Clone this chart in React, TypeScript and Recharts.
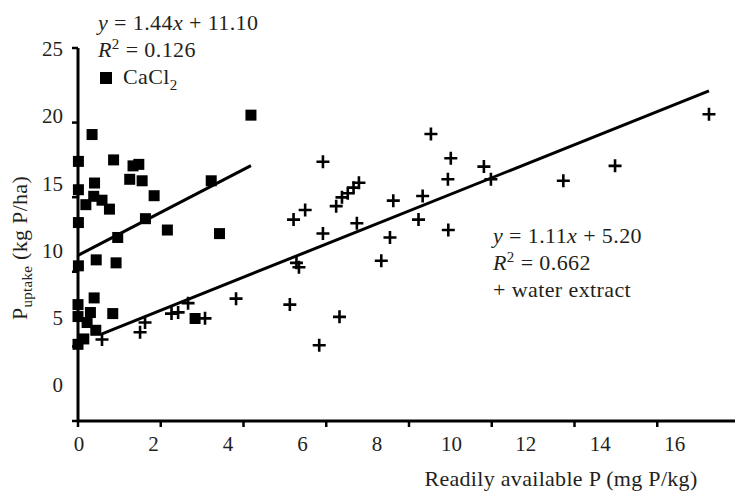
import React from 'react';
import { ReferenceLine, Scatter, ScatterChart, XAxis, YAxis } from 'recharts';

// CaCl2 extract (squares)
const cacl2X = [4.18, 0.34, 0.01, 0.86, 1.33, 1.47, 1.25, 1.55, 3.22, 0.01, 0.4, 1.84, 0.38, 0.58, 0.19, 0.76, 0.01, 1.63, 2.16, 3.42, 0.96, 0.01, 0.44, 0.92, 0.0, 0.39, 0.0, 0.3, 0.84, 0.22, 0.43, 2.83, 0.14, 0.0];
const cacl2Y = [20.5, 19.2, 17.4, 17.5, 17.1, 17.2, 16.2, 16.1, 16.1, 15.5, 15.95, 15.1, 15.06, 14.8, 14.5, 14.2, 13.3, 13.56, 12.8, 12.56, 12.3, 10.4, 10.8, 10.6, 7.8, 8.25, 7.0, 7.27, 7.2, 6.6, 6.08, 6.87, 5.5, 5.14];

// water extract (crosses)
const waterX = [0.58, 1.5, 1.62, 2.26, 2.42, 2.66, 3.07, 3.82, 5.12, 5.21, 5.28, 5.34, 5.49, 5.83, 5.92, 5.92, 6.24, 6.32, 6.38, 6.52, 6.66, 6.74, 6.79, 7.33, 7.54, 7.62, 8.23, 8.33, 8.53, 8.94, 8.95, 9.01, 9.81, 9.98, 11.73, 12.98, 15.25];
const waterY = [5.46, 5.95, 6.6, 7.2, 7.28, 7.9, 6.88, 8.2, 7.8, 13.5, 10.6, 10.3, 14.14, 5.08, 17.38, 12.57, 14.4, 6.98, 14.99, 15.26, 15.64, 13.25, 15.97, 10.74, 12.3, 14.77, 13.5, 15.08, 19.24, 16.2, 12.8, 17.61, 17.05, 16.2, 16.1, 17.1, 20.56];

// fitted lines: [CaCl2, water]
const fitSlopes = [1.44, 1.11];
const fitIntercepts = [11.1, 5.2];
const fitR2 = ['0.126', '0.662'];

const xTicks = [0, 2, 4, 6, 8, 10, 12, 14, 16];
const yTicks = [0, 5, 10, 15, 20, 25];

const cacl2 = cacl2X.map((x, i) => ({ x, y: cacl2Y[i] }));
const water = waterX.map((x, i) => ({ x, y: waterY[i] }));

const fitSegment = (xs: number[], k: number) => {
  const lo = Math.min(...xs);
  const hi = Math.max(...xs);
  return [
    { x: lo, y: fitSlopes[k] * lo + fitIntercepts[k] },
    { x: hi, y: fitSlopes[k] * hi + fitIntercepts[k] },
  ];
};

const FONT = '"Liberation Serif", "DejaVu Serif", serif';
const INK = '#231f20';
const PLOT_LEFT = 78;
const PLOT_BOTTOM = 421;
// the printed tick labels sit a little inside their tick marks
const SQUEEZE = 0.9;

const Square = (p: any) => <rect x={p.cx - 5.5} y={p.cy - 5.5} width={11} height={11} fill="#000" />;
const Cross = (p: any) => (
  <path d={`M${p.cx - 6.5},${p.cy}H${p.cx + 6.5}M${p.cx},${p.cy - 6.5}V${p.cy + 6.5}`} stroke="#000" strokeWidth={2.6} />
);

const XTick = (p: any) => (
  <text x={PLOT_LEFT + 1 + (p.x - PLOT_LEFT) * SQUEEZE} y={p.y + 22} textAnchor="middle" fontFamily={FONT} fontSize={21} fill={INK}>
    {p.payload.value}
  </text>
);

const YTick = (p: any) => (
  <text x={63} y={PLOT_BOTTOM - 29 - (PLOT_BOTTOM - p.y) * SQUEEZE} textAnchor="end" fontFamily={FONT} fontSize={21} fill={INK}>
    {p.payload.value}
  </text>
);

export default function App() {
  return (
    <div style={{ width: 735, height: 492, overflow: 'hidden', background: '#fff' }}>
      <style>{'body{margin:0}'}</style>
      <ScatterChart width={745} height={492} margin={{ top: 48, right: 5, bottom: 0, left: 0 }}>
        <XAxis
          type="number"
          dataKey="x"
          domain={[0, 16]}
          ticks={xTicks}
          height={71}
          axisLine={{ stroke: '#000', strokeWidth: 3 }}
          tickLine={{ stroke: '#000', strokeWidth: 2.5 }}
          tickSize={6}
          tick={<XTick />}
          interval={0}
        />
        <YAxis
          type="number"
          dataKey="y"
          domain={[0, 25]}
          ticks={yTicks}
          width={78}
          axisLine={{ stroke: '#000', strokeWidth: 3 }}
          tickLine={{ stroke: '#000', strokeWidth: 2.5 }}
          tickSize={6}
          tick={<YTick />}
          interval={0}
        />
        <Scatter data={cacl2} shape={<Square />} isAnimationActive={false} />
        <Scatter data={water} shape={<Cross />} isAnimationActive={false} />
        <ReferenceLine segment={fitSegment(cacl2X, 0)} stroke="#000" strokeWidth={3} />
        <ReferenceLine segment={fitSegment(waterX, 1)} stroke="#000" strokeWidth={3} />

        <text transform="rotate(-90)" x={-248} y={27} textAnchor="middle" fontFamily={FONT} fontSize={22} fill={INK} letterSpacing={0.3}>
          P<tspan fontSize={15} dy={5}>uptake</tspan>
          <tspan dy={-5}> (kg P/ha)</tspan>
        </text>
        <text x={561} y={486} textAnchor="middle" fontFamily={FONT} fontSize={22} fill={INK} letterSpacing={0.3}>
          Readily available P (mg P/kg)
        </text>

        <g fontFamily={FONT} fontSize={22} fill={INK} letterSpacing={0.4}>
          <text x={98} y={30}>
            <tspan fontStyle="italic">y</tspan> = {fitSlopes[0].toFixed(2)}
            <tspan fontStyle="italic">x</tspan> + {fitIntercepts[0].toFixed(2)}
          </text>
          <text x={98} y={57}>
            <tspan fontStyle="italic">R</tspan>
            <tspan fontSize={15} dy={-8}>2</tspan>
            <tspan dy={8}> = {fitR2[0]}</tspan>
          </text>
          <rect x={100} y={72} width={12} height={12} fill="#000" />
          <text x={123} y={84}>
            CaCl<tspan fontSize={15} dy={6}>2</tspan>
          </text>
          <text x={493} y={243}>
            <tspan fontStyle="italic">y</tspan> = {fitSlopes[1].toFixed(2)}
            <tspan fontStyle="italic">x</tspan> + {fitIntercepts[1].toFixed(2)}
          </text>
          <text x={493} y={270}>
            <tspan fontStyle="italic">R</tspan>
            <tspan fontSize={15} dy={-8}>2</tspan>
            <tspan dy={8}> = {fitR2[1]}</tspan>
          </text>
          <text x={493} y={297}>+ water extract</text>
        </g>
      </ScatterChart>
    </div>
  );
}
